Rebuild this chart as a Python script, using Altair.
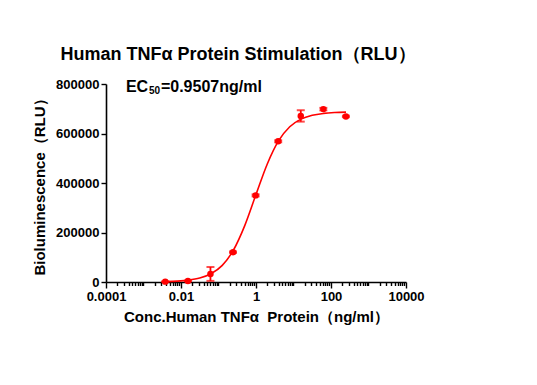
import altair as alt
import pandas as pd

# measured points (ng/ml, RLU, SD)
conc = [0.0038, 0.0153, 0.061, 0.244, 0.977, 3.906, 15.625, 62.5, 250]
rlu = [1500, 4000, 32500, 120600, 350000, 568500, 671000, 698500, 669000]
err = [1000, 1500, 28000, 3000, 4000, 4000, 23000, 5000, 3000]

# fitted curve
curve_x = [0.00398, 0.00794, 0.0158, 0.0316, 0.063, 0.126, 0.251, 0.501, 1.0,
           2.0, 3.98, 7.94, 15.8, 31.6, 63.1, 126, 251]
curve_y = [1700, 3550, 7500, 15900, 33100, 67100, 129300, 227800, 353500,
           476900, 570000, 627300, 658200, 673700, 681200, 684800, 686500]

x_ticks = [m * 10.0 ** k for k in range(-4, 4) for m in range(1, 10)] + [10000]
y_ticks = [0, 200000, 400000, 600000, 800000]

FONT = "Liberation Sans"
RED = "#FF0000"

pts = pd.DataFrame({"conc": conc, "rlu": rlu, "err": err})
pts["lo"] = pts["rlu"] - pts["err"]
pts["hi"] = pts["rlu"] + pts["err"]
cur = pd.DataFrame({"conc": curve_x, "rlu": curve_y})

xscale = alt.Scale(type="log", domain=[0.0001, 10000], nice=False)
yscale = alt.Scale(domain=[0, 800000], nice=False, zero=True)

MAJOR = "abs(log(datum.value)/LN10/2 - round(log(datum.value)/LN10/2)) < 0.001"

x_axis = alt.Axis(values=x_ticks, format="~g", orient="bottom",
                  labelExpr=f"({MAJOR}) ? datum.label : ''",
                  tickSize={"condition": {"test": MAJOR, "value": 6}, "value": 3.5},
                  title="Conc.Human TNFα \u00a0Protein（ng/ml）",
                  titleFontSize=15, titlePadding=6, labelOverlap=False,
                  labelFlush=False)
y_axis = alt.Axis(values=y_ticks, format="d", title="Bioluminescence（RLU）",
                  tickSize=5, titleFontSize=15, titlePadding=8)

curve = alt.Chart(cur).mark_line(color=RED, strokeWidth=1.6, interpolate="monotone").encode(
    x=alt.X("conc:Q", scale=xscale, axis=x_axis),
    y=alt.Y("rlu:Q", scale=yscale, axis=y_axis),
)

base = alt.Chart(pts)
points = base.mark_circle(color=RED, size=42, opacity=1).encode(
    x=alt.X("conc:Q", scale=xscale),
    y=alt.Y("rlu:Q", scale=yscale),
)
bars = base.mark_rule(color=RED, strokeWidth=1.8).encode(
    x=alt.X("conc:Q", scale=xscale), y=alt.Y("lo:Q", scale=yscale), y2="hi:Q"
)
cap_hi = base.mark_tick(color=RED, thickness=2, size=8, orient="horizontal").encode(
    x=alt.X("conc:Q", scale=xscale), y=alt.Y("hi:Q", scale=yscale)
)
cap_lo = base.mark_tick(color=RED, thickness=2, size=8, orient="horizontal").encode(
    x=alt.X("conc:Q", scale=xscale), y=alt.Y("lo:Q", scale=yscale)
)

ann = pd.DataFrame({"conc": [0.00034], "rlu": [767500]})
a1 = alt.Chart(ann).mark_text(text="EC", align="left", baseline="alphabetic",
                              font=FONT, fontWeight="bold", fontSize=16, color="black").encode(
    x=alt.X("conc:Q", scale=xscale), y=alt.Y("rlu:Q", scale=yscale))
a2 = alt.Chart(ann).mark_text(text="50", align="left", baseline="alphabetic", dx=23, dy=2,
                              font=FONT, fontWeight="bold", fontSize=10, color="black").encode(
    x=alt.X("conc:Q", scale=xscale), y=alt.Y("rlu:Q", scale=yscale))
a3 = alt.Chart(ann).mark_text(text="=0.9507ng/ml", align="left", baseline="alphabetic", dx=35,
                              font=FONT, fontWeight="bold", fontSize=16, color="black").encode(
    x=alt.X("conc:Q", scale=xscale), y=alt.Y("rlu:Q", scale=yscale))

chart = alt.layer(curve, points, bars, cap_hi, cap_lo, a1, a2, a3).properties(
    width=300, height=198,
    padding={"left": 24, "top": 38, "right": 5, "bottom": 5},
    title=alt.TitleParams(text="Human TNFα Protein Stimulation（RLU）", font=FONT,
                          fontSize=18, fontWeight="bold", anchor="middle", frame="group",
                          dx=-18, offset=14, color="black"),
).configure_view(stroke=None).configure_axis(
    labelFont=FONT, titleFont=FONT, labelFontWeight="bold", titleFontWeight="bold",
    labelFontSize=13, labelColor="black", titleColor="black", domainColor="black",
    tickColor="black", domainWidth=1.6, tickWidth=1.4, grid=False, labelPadding=2,
)

chart.save("out.html", embed_options={"renderer": "svg", "actions": False})
